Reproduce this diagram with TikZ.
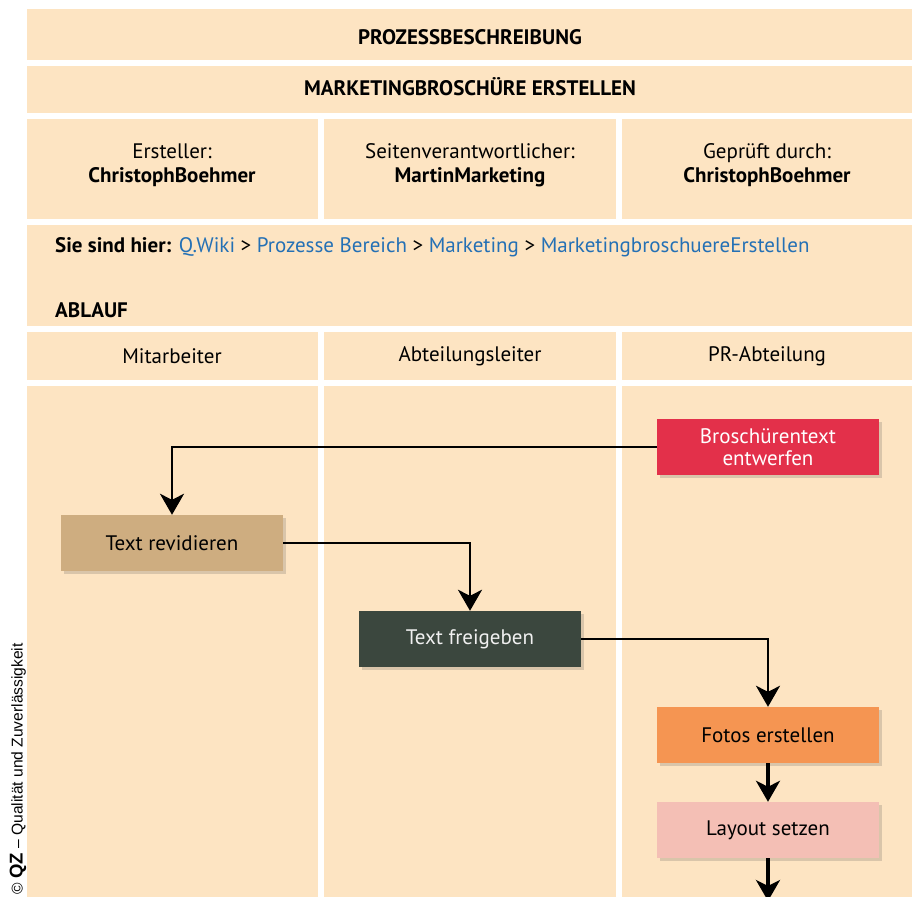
\documentclass[tikz,border=0pt]{standalone}
\usepackage{fontspec}
\setmainfont{PT Sans}
\newfontfamily\arialfont{Liberation Sans}
\usetikzlibrary{arrows.meta,shadows,positioning}
\definecolor{cream}{HTML}{FDE4C2}
\definecolor{revid}{HTML}{CEAD80}
\definecolor{redbox}{HTML}{E3304A}
\definecolor{darkbox}{HTML}{3B473E}
\definecolor{orangebox}{HTML}{F59552}
\definecolor{pinkbox}{HTML}{F4BFB5}
\definecolor{linkblue}{HTML}{2470B5}
\tikzset{
  panel/.style={fill=cream,draw=none},
  hdr/.style={font=\fontsize{21}{25}\selectfont\bfseries},
  celltext/.style={font=\fontsize{21}{23.5}\selectfont,align=center},
  task/.style={minimum width=222pt,minimum height=56pt,inner sep=0pt,align=center,
    font=\fontsize{21}{23}\selectfont,
    drop shadow={shadow xshift=2.5pt,shadow yshift=-3pt,opacity=.2,fill=black!70}},
  flow/.style={line width=2.6pt,-{Stealth[length=21pt,width=24pt,inset=6pt]}},
  flowthick/.style={line width=3.4pt,-{Stealth[length=21pt,width=24pt,inset=6pt]}},
  link/.style={text=linkblue}
}
\begin{document}
\begin{tikzpicture}[x=1pt,y=-1pt]
\useasboundingbox[fill=white] (0,0) rectangle (914,897);
% panels
\fill[panel] (27,9) rectangle (912,60);
\fill[panel] (27,66) rectangle (912,113);
\fill[panel] (27,119) rectangle (318,219);
\fill[panel] (324,119) rectangle (616,219);
\fill[panel] (622,119) rectangle (912,219);
\fill[panel] (27,225) rectangle (912,326);
\fill[panel] (27,332) rectangle (318,380);
\fill[panel] (324,332) rectangle (616,380);
\fill[panel] (622,332) rectangle (912,380);
\fill[panel] (27,386) rectangle (318,900);
\fill[panel] (324,386) rectangle (616,900);
\fill[panel] (622,386) rectangle (912,900);
% header texts
\node[hdr] (title) at (470,37) {PROZESSBESCHREIBUNG};
\node[hdr] (subtitle) at (470,87) {MARKETINGBROSCHÜRE ERSTELLEN};
\node[celltext] (ersteller) at (172,165) {Ersteller:\\\textbf{ChristophBoehmer}};
\node[celltext] (seitenv) at (470,165) {Seitenverantwortlicher:\\\textbf{MartinMarketing}};
\node[celltext] (geprueft) at (767,165) {Geprüft durch:\\\textbf{ChristophBoehmer}};
\node[anchor=west,font=\fontsize{21}{25}\selectfont,inner sep=0pt] (path) at (55,247)
  {\textbf{Sie sind hier:} \textcolor{linkblue}{Q.Wiki} > \textcolor{linkblue}{Prozesse Bereich} > \textcolor{linkblue}{Marketing} > \textcolor{linkblue}{MarketingbroschuereErstellen}};
\node[anchor=west,hdr,inner sep=0pt] (ablauf) at (55,310) {ABLAUF};
\node[celltext] (lane1) at (172,356) {Mitarbeiter};
\node[celltext] (lane2) at (470,356) {Abteilungsleiter};
\node[celltext] (lane3) at (767,356) {PR-Abteilung};
% tasks
\node[task,fill=redbox,text=white] (brosch) at (768,447) {Broschürentext\\[-1pt]entwerfen};
\node[task,fill=revid] (revid) at (172,543) {Text revidieren};
\node[task,fill=darkbox,text=white!94!black] (frei) at (470,639) {Text freigeben};
\node[task,fill=orangebox] (fotos) at (768,735) {Fotos erstellen};
\node[task,fill=pinkbox] (layout) at (768,830) {Layout setzen};
\coordinate (endpt) at (768,899);
% connectors
\draw[flow] (brosch.west) -| (revid.north);
\draw[flow] (revid.east) -| (frei.north);
\draw[flow] (frei.east) -| (fotos.north);
\draw[flowthick] (fotos.south) -- (layout.north);
\draw[flowthick,shorten >=-2pt] (layout.south) -- (endpt);
% copyright
\node[rotate=90,anchor=east,inner sep=0pt,font=\arialfont\fontsize{15.6}{18}\selectfont] (copy) at (18,643)
  {© {\fontsize{18.5}{20}\selectfont\bfseries QZ} – Qualität und Zuverlässigkeit};
\end{tikzpicture}
\end{document}
